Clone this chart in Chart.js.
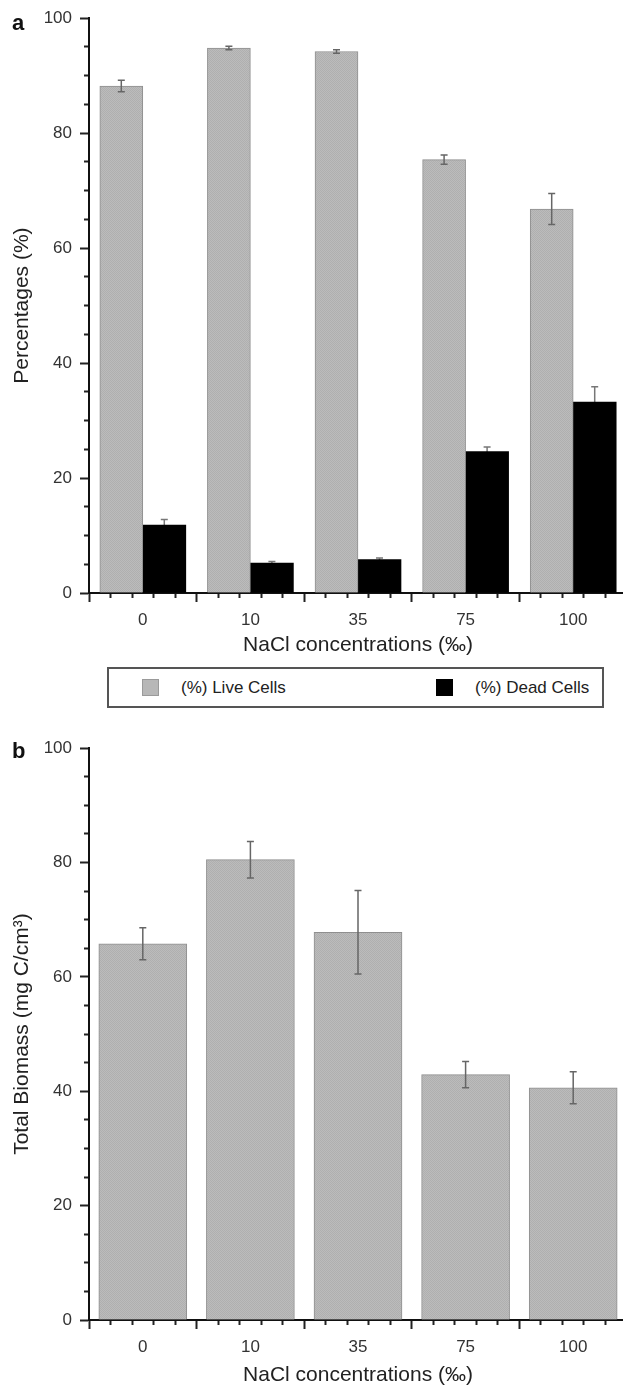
<!DOCTYPE html>
<html>
<head>
<meta charset="utf-8">
<script src="https://cdn.jsdelivr.net/npm/chart.js@4.4.0/dist/chart.umd.min.js"></script>
<style>
  body { margin: 0; background: #fff; }
  #page { position: relative; width: 623px; height: 1388px; overflow: hidden;
          font-family: "Liberation Sans", Arial, sans-serif; }
  canvas { position: absolute; left: 0; }
  #chartA { top: 0; }
  #chartB { top: 730px; }
  #legendA { position: absolute; left: 107px; top: 667px; width: 493px; height: 37px;
             border: 2px solid #555; }
  .item { position: absolute; top: 0; height: 37px; display: flex; align-items: center;
          font-size: 17px; color: #222; white-space: nowrap; }
  .swatch { width: 17px; height: 17px; margin-right: 22px; box-sizing: border-box; }
</style>
</head>
<body>
<div id="page">
  <!-- the plot runs a little past the right edge, as in the cropped original -->
  <canvas id="chartA" width="627" height="660"></canvas>
  <div id="legendA"></div>
  <canvas id="chartB" width="627" height="658"></canvas>
</div>
<script>
// ---- data ----
const categories = ["0", "10", "35", "75", "100"];

// panel a: live / dead cells (%)
const liveCells = [88.2, 94.8, 94.2, 75.4, 66.8];
const liveErr   = [1.0, 0.3, 0.3, 0.8, 2.7];
const deadCells = [11.8, 5.2, 5.8, 24.6, 33.2];
const deadErr   = [1.0, 0.3, 0.3, 0.8, 2.7];

// panel b: total biomass (mg C/cm3)
const biomass    = [65.8, 80.5, 67.8, 42.9, 40.6];
const biomassErr = [2.8, 3.2, 7.3, 2.3, 2.8];

// y axis: labelled every 20, minor marks every 5
const yMajorStep = 20;
const yMinorStep = 5;
const yMax = 100;

const FONT = "'Liberation Sans', Arial, sans-serif";
const GRAY = "#b7b7b7";

// halftone-ish fill like the scanned bars
function grayFill() {
    const c = document.createElement("canvas");
    c.width = c.height = 2;
    const g = c.getContext("2d");
    g.fillStyle = "#bcbcbc";
    g.fillRect(0, 0, 2, 2);
    g.fillStyle = "#afafaf";
    g.fillRect(0, 0, 1, 1);
    g.fillRect(1, 1, 1, 1);
    return g.createPattern(c, "repeat");
}

const toPoints = (arr) => arr.map((v, i) => ({ x: i, y: v }));

// x tick list in tenths: odd tenths carry marks, whole numbers carry the category label
function xTickValues() {
    const out = [];
    for (let k = -5; k <= categories.length * 10 - 5; k++) {
        if (k % 2 !== 0 || k % 10 === 0) out.push(k / 10);
    }
    return out;
}
const tenths = (v) => Math.round(v * 10);
const isLabelTick = (v) => tenths(v) % 10 === 0;
const isMajorX = (v) => (tenths(v) + 5) % 10 === 0;

function xScale(height, titlePad) {
    return {
        type: "linear",
        offset: false,
        min: -0.5,
        max: categories.length - 0.5,
        afterBuildTicks: (s) => { s.ticks = xTickValues().map((v) => ({ value: v })); },
        afterFit: (s) => {
            s.height = height;
            s.paddingLeft = 0;
            s.paddingRight = 0;
        },
        border: { color: "#111", width: 2 },
        grid: {
            offset: false,
            drawOnChartArea: false,
            tickLength: 9,
            tickWidth: 2,
            tickColor: (c) => (c.tick && isLabelTick(c.tick.value) ? "rgba(0,0,0,0)" : "#222"),
            tickBorderDash: (c) => (c.tick && !isMajorX(c.tick.value) ? [4, 50] : []),
        },
        ticks: {
            autoSkip: false,
            maxRotation: 0,
            minRotation: 0,
            padding: 8,
            color: "#333",
            font: { family: FONT, size: 17 },
            callback: (v) => (isLabelTick(v) ? categories[Math.round(v)] : ""),
        },
        title: {
            display: true,
            text: "NaCl concentrations (‰)",
            color: "#222",
            font: { family: FONT, size: 21 },
            padding: { top: 0, bottom: titlePad },
        },
    };
}

function yScale(titleText) {
    return {
        type: "linear",
        min: 0,
        max: yMax,
        afterFit: (s) => { s.width = 89; },
        border: { color: "#111", width: 2 },
        grid: {
            drawOnChartArea: false,
            tickLength: 9,
            tickWidth: 2,
            tickColor: "#222",
            tickBorderDash: (c) => (c.tick && c.tick.value % yMajorStep !== 0 ? [0, 4, 4, 50] : []),
        },
        ticks: {
            stepSize: yMinorStep,
            autoSkip: false,
            padding: 8,
            color: "#333",
            font: { family: FONT, size: 17 },
            callback: (v) => (v % yMajorStep === 0 ? v : ""),
        },
        title: {
            display: true,
            text: titleText,
            color: "#222",
            font: { family: FONT, size: 21 },
            padding: { top: 10, bottom: 0 },
        },
    };
}

// vertical error bars with caps; dark bars get theirs drawn underneath
function drawErrors(chart, behind) {
    const { ctx } = chart;
    const y = chart.scales.y;
    chart.data.datasets.forEach((ds, di) => {
        if (!ds.errors || !!ds.errorBehind !== behind) return;
        const meta = chart.getDatasetMeta(di);
        ctx.save();
        ctx.strokeStyle = ds.errorColor || "#555";
        ctx.lineWidth = 1.5;
        meta.data.forEach((bar, i) => {
            const v = ds.data[i].y;
            const e = ds.errors[i];
            const top = y.getPixelForValue(v + e);
            const bot = y.getPixelForValue(v - e);
            ctx.beginPath();
            ctx.moveTo(bar.x, top);
            ctx.lineTo(bar.x, bot);
            ctx.moveTo(bar.x - 3.5, top);
            ctx.lineTo(bar.x + 3.5, top);
            ctx.moveTo(bar.x - 3.5, bot);
            ctx.lineTo(bar.x + 3.5, bot);
            ctx.stroke();
        });
        ctx.restore();
    });
}

const errorBars = {
    id: "errorBars",
    beforeDatasetsDraw(chart) { drawErrors(chart, true); },
    afterDatasetsDraw(chart) { drawErrors(chart, false); },
};

// bold panel letter in the upper left corner
const panelLabel = {
    id: "panelLabel",
    afterDraw(chart, args, opts) {
        const { ctx } = chart;
        ctx.save();
        ctx.fillStyle = "#111";
        ctx.font = "bold 22px " + FONT;
        ctx.textBaseline = "alphabetic";
        ctx.fillText(opts.text, 12, opts.y);
        ctx.restore();
    },
};

const fill = grayFill();

const chartA = new Chart(document.getElementById("chartA"), {
    type: "bar",
    data: {
        datasets: [
            {
                label: "(%) Live Cells",
                data: toPoints(liveCells),
                errors: liveErr,
                errorColor: "#666",
                swatch: GRAY,
                backgroundColor: fill,
                borderColor: "#8f8f8f",
                borderWidth: 1,
            },
            {
                label: "(%) Dead Cells",
                data: toPoints(deadCells),
                errors: deadErr,
                errorColor: "#777",
                errorBehind: true,
                swatch: "#000",
                backgroundColor: "#000",
                borderWidth: 0,
            },
        ],
    },
    options: {
        responsive: false,
        animation: false,
        layout: { padding: { top: 17, right: 0, bottom: 0, left: 0 } },
        datasets: { bar: { barThickness: 43 } },
        plugins: {
            legend: { display: false },
            tooltip: { enabled: false },
            panelLabel: { text: "a", y: 30 },
        },
        scales: { x: xScale(67, 2), y: yScale("Percentages (%)") },
    },
    plugins: [errorBars, panelLabel],
});

// boxed legend under panel a, built from the chart's datasets
const legendX = [33, 327];
const legendEl = document.getElementById("legendA");
chartA.data.datasets.forEach((ds, i) => {
    const item = document.createElement("div");
    item.className = "item";
    item.style.left = legendX[i] + "px";
    const sw = document.createElement("span");
    sw.className = "swatch";
    sw.style.background = ds.swatch;
    if (ds.swatch !== "#000") sw.style.border = "1px solid #9a9a9a";
    const tx = document.createElement("span");
    tx.textContent = ds.label;
    item.appendChild(sw);
    item.appendChild(tx);
    legendEl.appendChild(item);
});

new Chart(document.getElementById("chartB"), {
    type: "bar",
    data: {
        datasets: [
            {
                label: "Total Biomass",
                data: toPoints(biomass),
                errors: biomassErr,
                errorColor: "#666",
                backgroundColor: fill,
                borderColor: "#8f8f8f",
                borderWidth: 1,
            },
        ],
    },
    options: {
        responsive: false,
        animation: false,
        layout: { padding: { top: 17, right: 0, bottom: 0, left: 0 } },
        datasets: { bar: { barThickness: 88 } },
        plugins: {
            legend: { display: false },
            tooltip: { enabled: false },
            panelLabel: { text: "b", y: 28 },
        },
        scales: { x: xScale(68, 0), y: yScale("Total Biomass (mg C/cm³)") },
    },
    plugins: [errorBars, panelLabel],
});
</script>
</body>
</html>
